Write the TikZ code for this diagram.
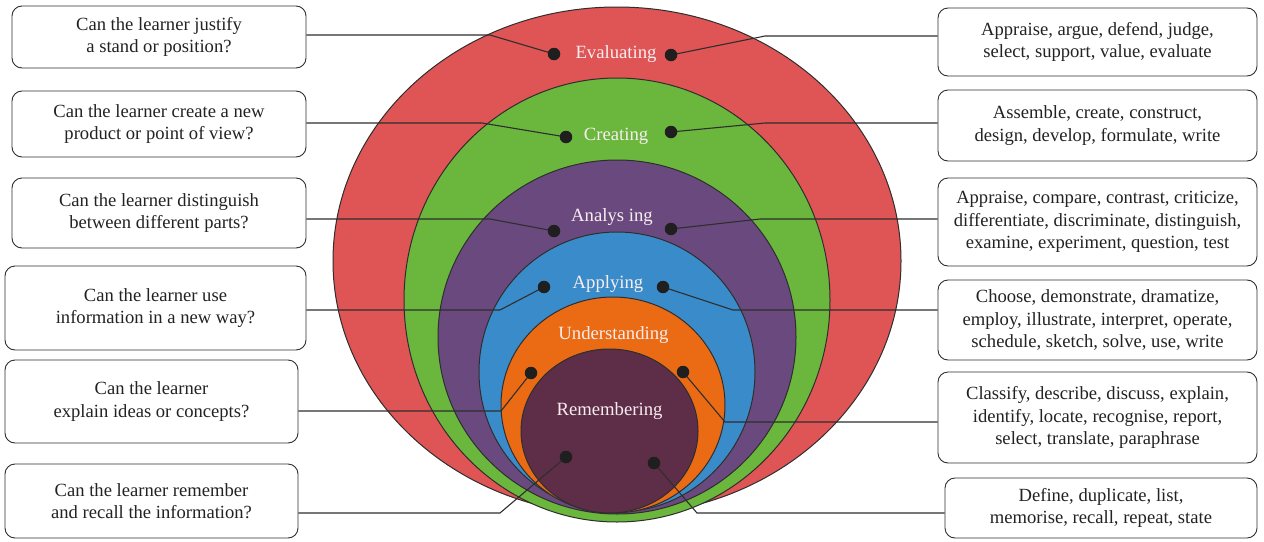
\documentclass[tikz,border=0pt]{standalone}
\usepackage{fontspec}
\setmainfont{Liberation Serif}
\definecolor{cred}{HTML}{DF5454}
\definecolor{cgreen}{HTML}{6BB63C}
\definecolor{cpurple}{HTML}{6A4A7E}
\definecolor{cblue}{HTML}{3A8BCA}
\definecolor{corange}{HTML}{EA6B13}
\definecolor{cmaroon}{HTML}{5E2D48}
\definecolor{cline}{HTML}{2E2E2E}
\definecolor{ctext}{HTML}{222222}
\definecolor{clabel}{HTML}{F7EDF0}
\begin{document}
\begin{tikzpicture}[x=1pt,y=-1pt,
  ring/.style={draw=cline,line width=1pt},
  qbox/.style={draw=cline,line width=0.9pt,rounded corners=10pt,align=center,
    text=ctext,font=\fontsize{18.6}{22.5}\selectfont,inner sep=0pt},
  conn/.style={draw=cline,line width=1.1pt},
  dotn/.style={circle,fill=black!88,minimum size=12.5pt,inner sep=0pt},
  lvl/.style={text=clabel,font=\fontsize{18.7}{22}\selectfont,inner sep=0pt}]
\useasboundingbox (0,0) rectangle (1264,541);
% rings
\draw[ring,fill=cred] (617,261) ellipse [x radius=284pt, y radius=254pt];
\draw[ring,fill=cgreen] (617,300) ellipse [x radius=213pt, y radius=222pt];
\draw[ring,fill=cpurple] (617,337) ellipse [x radius=179pt, y radius=177pt];
\draw[ring,fill=cblue] (617,372) ellipse [x radius=138pt, y radius=140pt];
\draw[ring,fill=corange] (613,405) ellipse [x radius=112pt, y radius=108pt];
\draw[ring,fill=cmaroon] (609.5,431) ellipse [x radius=88.5pt, y radius=82pt];
% left boxes
\node[qbox,minimum width=294pt,minimum height=62pt] (b1) at (159,37) {Can the learner justify\\a stand or position?};
\node[qbox,minimum width=294pt,minimum height=66pt] (b2) at (159,124) {Can the learner create a new\\product or point of view?};
\node[qbox,minimum width=294pt,minimum height=70pt] (b3) at (159,213) {Can the learner distinguish\\between different parts?};
\node[qbox,minimum width=301pt,minimum height=84pt] (b4) at (155.5,308) {Can the learner use\\information in a new way?};
\node[qbox,minimum width=293pt,minimum height=83pt] (b5) at (151.5,401.5) {Can the learner\\explain ideas or concepts?};
\node[qbox,minimum width=293pt,minimum height=74pt] (b6) at (151.5,501) {Can the learner remember\\and recall the information?};
% right boxes
\node[qbox,minimum width=319pt,minimum height=68pt] (r1) at (1097.5,42) {Appraise, argue, defend, judge,\\select, support, value, evaluate};
\node[qbox,minimum width=319pt,minimum height=71pt] (r2) at (1097.5,125.5) {Assemble, create, construct,\\design, develop, formulate, write};
\node[qbox,minimum width=319pt,minimum height=88pt] (r3) at (1097.5,222) {Appraise, compare, contrast, criticize,\\differentiate, discriminate, distinguish,\\examine, experiment, question, test};
\node[qbox,minimum width=319pt,minimum height=80pt] (r4) at (1097.5,320) {Choose, demonstrate, dramatize,\\employ, illustrate, interpret, operate,\\schedule, sketch, solve, use, write};
\node[qbox,minimum width=319pt,minimum height=91pt] (r5) at (1097.5,417.5) {Classify, describe, discuss, explain,\\identify, locate, recognise, report,\\select, translate, paraphrase};
\node[qbox,minimum width=312pt,minimum height=60pt] (r6) at (1101,508) {Define, duplicate, list,\\memorise, recall, repeat, state};
% dots
\coordinate (l1) at (554,54);  \coordinate (m1) at (671,55);
\coordinate (l2) at (566,137); \coordinate (m2) at (671,132);
\coordinate (l3) at (554,231); \coordinate (m3) at (671,229);
\coordinate (l4) at (544,287); \coordinate (m4) at (663,287);
\coordinate (l5) at (531,373); \coordinate (m5) at (683,372);
\coordinate (l6) at (566,457); \coordinate (m6) at (654,463);
% connectors
\draw[conn] (b1.east |- 0,35) -- (490,35) -- (l1);
\draw[conn] (b2.east |- 0,123) -- (482,123) -- (l2);
\draw[conn] (b3.east |- 0,219) -- (490,219) -- (l3);
\draw[conn] (b4.east |- 0,310) -- (500,310) -- (l4);
\draw[conn] (b5.east |- 0,411) -- (501,411) -- (l5);
\draw[conn] (b6.east |- 0,513) -- (500,513) -- (l6);
\draw[conn] (r1.west |- 0,36) -- (765,36) -- (m1);
\draw[conn] (r2.west |- 0,123) -- (765,123) -- (m2);
\draw[conn] (r3.west |- 0,219) -- (760,219) -- (m3);
\draw[conn] (r4.west |- 0,310) -- (733,310) -- (m4);
\draw[conn] (r5.west |- 0,422) -- (725,422) -- (m5);
\draw[conn] (r6.west |- 0,513) -- (697,513) -- (m6);
\foreach \p in {l1,m1,l2,m2,l3,m3,l4,m4,l5,m5,l6,m6} \node[dotn] (d\p) at (\p) {};
% labels
\node[lvl] (t1) at (616,54) {Evaluating};
\node[lvl] (t2) at (616,136) {Creating};
\node[lvl] (t3) at (612,217) {Analys ing};
\node[lvl] (t4) at (608,284) {Applying};
\node[lvl] (t5) at (613.5,335) {Understanding};
\node[lvl] (t6) at (609.5,411) {Remembering};
\end{tikzpicture}
\end{document}
